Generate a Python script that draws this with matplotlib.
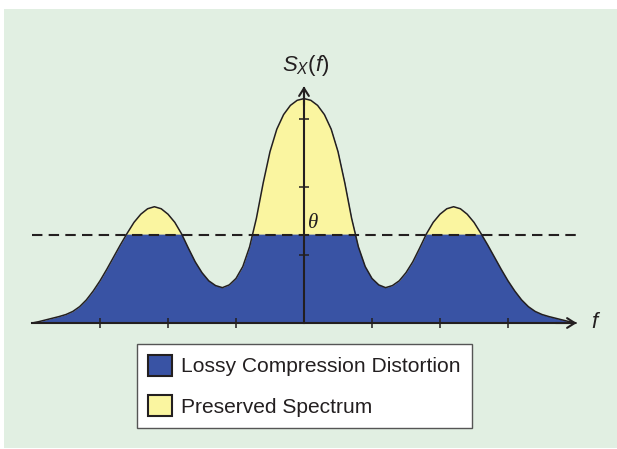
import numpy as np
import matplotlib
matplotlib.use("Agg")
import matplotlib.pyplot as plt
from matplotlib.patches import Patch

# ---- data ----
freq = [-4.0, -3.9, -3.8, -3.7, -3.6, -3.5, -3.4, -3.3, -3.2, -3.1,
        -3.0, -2.9, -2.8, -2.7, -2.6, -2.5, -2.4, -2.3, -2.2, -2.1,
        -2.0, -1.9, -1.8, -1.7, -1.6, -1.5, -1.4, -1.3, -1.2, -1.1,
        -1.0, -0.9, -0.8, -0.7, -0.6, -0.5, -0.4, -0.3, -0.2, -0.1,
        0.0,
        0.1, 0.2, 0.3, 0.4, 0.5, 0.6, 0.7, 0.8, 0.9, 1.0,
        1.1, 1.2, 1.3, 1.4, 1.5, 1.6, 1.7, 1.8, 1.9, 2.0,
        2.1, 2.2, 2.3, 2.4, 2.5, 2.6, 2.7, 2.8, 2.9, 3.0,
        3.1, 3.2, 3.3, 3.4, 3.5, 3.6, 3.7, 3.8, 3.9, 4.0]
spectrum = [0.0, 0.02, 0.045, 0.07, 0.095, 0.125, 0.17, 0.24, 0.34, 0.47,
            0.62, 0.79, 0.97, 1.15, 1.32, 1.48, 1.60, 1.68, 1.71, 1.68,
            1.60, 1.48, 1.31, 1.10, 0.90, 0.74, 0.62, 0.55, 0.52, 0.56,
            0.655, 0.83, 1.12, 1.54, 2.06, 2.52, 2.85, 3.065, 3.20, 3.275,
            3.30,
            3.275, 3.20, 3.065, 2.85, 2.52, 2.06, 1.54, 1.12, 0.83, 0.655,
            0.56, 0.52, 0.55, 0.62, 0.74, 0.90, 1.10, 1.31, 1.48, 1.60,
            1.68, 1.71, 1.68, 1.60, 1.48, 1.32, 1.15, 0.97, 0.79, 0.62,
            0.47, 0.34, 0.24, 0.17, 0.125, 0.095, 0.07, 0.045, 0.02, 0.0]
theta = 1.30
x_ticks = [-3, -2, -1, 1, 2, 3]
y_ticks = [1, 2, 3]
legend_labels = ["Lossy Compression Distortion", "Preserved Spectrum"]

# ---- styles ----
BG = "#e1efe2"
BLUE = "#3953a4"
YELLOW = "#faf5a0"
DARK = "#231f20"

f = np.array(freq)
s = np.array(spectrum)

fig = plt.figure(figsize=(6.17, 4.49), dpi=100, facecolor="white")
W, H = 617, 449
ax = fig.add_axes([4 / W, 1 / H, 613 / W, 439 / H])
ax.set_facecolor(BG)
ax.set_xlim((4 - 304) / 68, (617 - 304) / 68)
ax.set_ylim((323 - 448) / 68, (323 - 9) / 68)

# fills: blue under the whole curve, yellow over it above the threshold
ax.fill_between(f, 0, s, color=BLUE, lw=0, zorder=1)
ax.fill_between(f, theta, s, where=s >= theta, interpolate=True,
                color=YELLOW, lw=0, zorder=1.5)
ax.plot(f, s, color=DARK, lw=1.1, zorder=2, solid_joinstyle="round")

# threshold
ax.plot([f[0], f[-1]], [theta, theta], color=DARK, lw=1.5,
        dashes=(5, 3), zorder=3)
ax.text(0.06, theta + 0.02, "θ", family="Liberation Serif", style="italic",
        fontsize=15, color=DARK, ha="left", va="bottom", zorder=4)

# axes through origin
for side in ["top", "right"]:
    ax.spines[side].set_visible(False)
ax.spines["left"].set_position(("data", 0))
ax.spines["bottom"].set_position(("data", 0))
ax.spines["left"].set_bounds(0, 3.45)
ax.spines["bottom"].set_bounds(-4.0, 3.98)
for side in ["left", "bottom"]:
    ax.spines[side].set_color(DARK)
    ax.spines[side].set_linewidth(1.5)
    ax.spines[side].set_zorder(5)
ax.set_xticks(x_ticks)
ax.set_yticks(y_ticks)
ax.tick_params(direction="inout", length=7.5, width=1.1, color=DARK,
               labelbottom=False, labelleft=False)

arrow = dict(arrowstyle="->,head_length=0.55,head_width=0.35", lw=1.5,
             color=DARK, shrinkA=0, shrinkB=0)
ax.annotate("", xy=(4.01, 0), xytext=(3.7, 0), arrowprops=arrow, zorder=6)
ax.annotate("", xy=(0, 3.48), xytext=(0, 3.2), arrowprops=arrow, zorder=6)

plt.rcParams["mathtext.fontset"] = "custom"
plt.rcParams["mathtext.it"] = "Liberation Sans:italic"
plt.rcParams["mathtext.rm"] = "Liberation Sans"
ax.text(0.02, (323 - 66) / 68, r"$S_X(f)$", fontsize=16, color=DARK,
        ha="center", va="center")
ax.text((594 - 304) / 68, 0.0, "f", family="Liberation Sans", style="italic",
        fontsize=16, color=DARK, ha="center", va="center")

# legend
handles = [Patch(facecolor=BLUE, edgecolor=DARK, linewidth=1.5),
           Patch(facecolor=YELLOW, edgecolor=DARK, linewidth=1.5)]
leg = fig.legend(handles, legend_labels, loc="upper left",
                 bbox_to_anchor=(137 / W, 1 - 344 / H),
                 bbox_transform=fig.transFigure,
                 prop={"family": "Liberation Sans", "size": 15.1},
                 handlelength=1.15, handleheight=1.15, handletextpad=0.45,
                 labelspacing=0.9, borderpad=0.52, borderaxespad=0,
                 fancybox=False, framealpha=1, edgecolor="#555555",
                 facecolor="white", labelcolor=DARK)
leg.get_frame().set_linewidth(1.0)

fig.savefig("out.png", dpi=100, facecolor="white")
